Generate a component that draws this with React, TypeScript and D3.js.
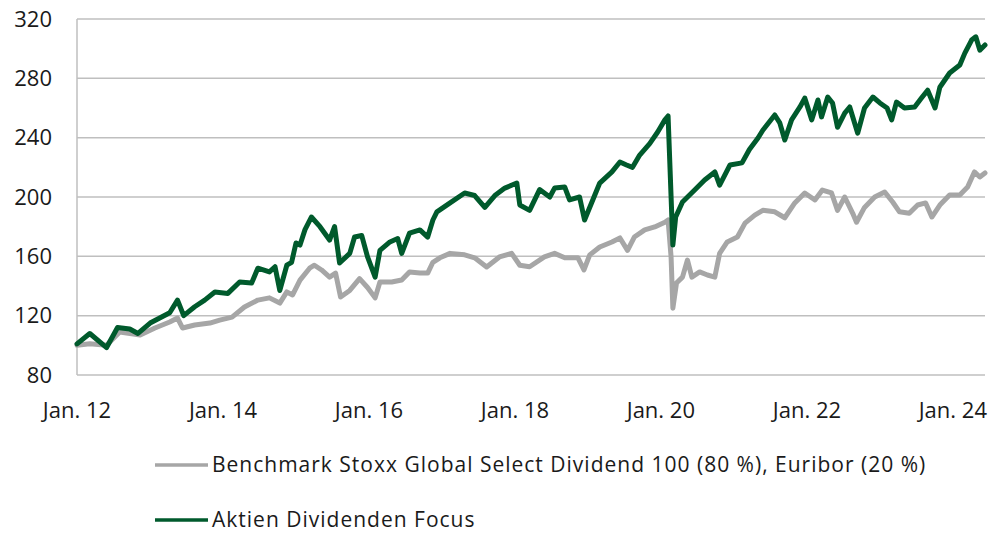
import React, { useRef, useEffect } from "react";
import * as d3 from "d3";

const yTicks = [80, 120, 160, 200, 240, 280, 320];
const xTickDates = ["2012-01-01", "2014-01-01", "2016-01-01", "2018-01-01", "2020-01-01", "2022-01-01", "2024-01-01"];
const xTickLabels = ["Jan. 12", "Jan. 14", "Jan. 16", "Jan. 18", "Jan. 20", "Jan. 22", "Jan. 24"];
const seriesNames = ["Benchmark Stoxx Global Select Dividend 100 (80 %), Euribor (20 %)", "Aktien Dividenden Focus"];

// benchmark (grey)
const benchDates = [
  "2012-01-01", "2012-03-05", "2012-05-28", "2012-08-02", "2012-11-12", "2013-01-25", "2013-04-09", "2013-05-18",
  "2013-06-12", "2013-08-12", "2013-10-27", "2013-12-15", "2014-02-15", "2014-04-18", "2014-06-24", "2014-08-21",
  "2014-10-12", "2014-11-16", "2014-12-15", "2015-01-21", "2015-03-10", "2015-04-03", "2015-05-09", "2015-06-18",
  "2015-07-18", "2015-08-12", "2015-09-27", "2015-11-15", "2015-12-25", "2016-02-01", "2016-02-25", "2016-04-24",
  "2016-06-13", "2016-07-22", "2016-09-12", "2016-10-21", "2016-11-16", "2016-12-21", "2017-02-10", "2017-04-24",
  "2017-06-13", "2017-08-12", "2017-10-15", "2017-12-15", "2018-01-25", "2018-03-15", "2018-05-28", "2018-07-18",
  "2018-09-07", "2018-11-12", "2018-12-12", "2019-01-10", "2019-03-01", "2019-05-01", "2019-06-10", "2019-07-18",
  "2019-08-21", "2019-10-12", "2019-12-01", "2020-01-21", "2020-02-06", "2020-02-21", "2020-03-01", "2020-03-19",
  "2020-04-18", "2020-05-13", "2020-06-04", "2020-07-13", "2020-08-21", "2020-09-27", "2020-10-21", "2020-11-28",
  "2021-01-18", "2021-02-25", "2021-04-15", "2021-05-25", "2021-07-24", "2021-09-12", "2021-11-01", "2021-12-21",
  "2022-02-10", "2022-03-19", "2022-05-04", "2022-06-03", "2022-07-09", "2022-08-18", "2022-09-06", "2022-10-16",
  "2022-12-06", "2023-01-25", "2023-03-06", "2023-04-09", "2023-05-28", "2023-07-09", "2023-08-18", "2023-09-18",
  "2023-10-28", "2023-12-16", "2024-02-05", "2024-03-15", "2024-04-18", "2024-05-15", "2024-06-10",
];
const benchValues = [
  100, 101, 100, 109, 107, 111.7, 115.7, 118.4,
  111.7, 113.7, 115, 117, 119, 125.8, 130.5, 132,
  128.5, 136, 134, 144, 152, 154, 150.8, 146,
  148.7, 132.6, 137, 145, 139, 132, 142.7, 142.7,
  144, 149.5, 148.7, 148.7, 156, 159, 162, 161,
  159, 152.8, 159.6, 162, 154, 153, 159.6, 162,
  159, 159, 150.8, 161, 166.3, 169.7, 172.4, 164,
  173, 177.8, 179.8, 183, 184.5, 159.6, 125, 142,
  146, 157.5, 146, 149.5, 147.4, 146, 162, 169.7,
  173, 182.4, 187.8, 191, 190, 186, 196, 202.7,
  198, 204.7, 202.7, 191, 200, 189, 183, 193,
  200, 203.4, 196.6, 190, 189, 194.6, 196, 186.5,
  194.6, 201.4, 201.4, 206.7, 216.9, 213.5, 216.2,
];

// fund (green)
const fundDates = [
  "2012-01-01", "2012-03-05", "2012-05-28", "2012-07-22", "2012-09-21", "2012-11-01", "2013-01-01", "2013-04-09",
  "2013-05-18", "2013-06-18", "2013-08-12", "2013-10-01", "2013-11-21", "2014-01-25", "2014-03-25", "2014-05-24",
  "2014-06-24", "2014-08-21", "2014-09-18", "2014-10-12", "2014-11-16", "2014-12-10", "2015-01-01", "2015-01-21",
  "2015-02-15", "2015-03-19", "2015-05-01", "2015-06-18", "2015-07-13", "2015-08-07", "2015-09-27", "2015-10-21",
  "2015-11-26", "2015-12-25", "2016-02-01", "2016-02-25", "2016-04-15", "2016-05-24", "2016-06-13", "2016-07-22",
  "2016-09-12", "2016-10-21", "2016-11-16", "2016-12-06", "2017-02-10", "2017-04-24", "2017-06-13", "2017-08-03",
  "2017-09-22", "2017-11-11", "2018-01-10", "2018-01-25", "2018-03-15", "2018-05-04", "2018-06-24", "2018-07-18",
  "2018-09-07", "2018-10-01", "2018-11-20", "2018-12-15", "2019-03-01", "2019-05-01", "2019-06-10", "2019-07-13",
  "2019-08-12", "2019-09-17", "2019-11-06", "2019-12-16", "2020-01-21", "2020-02-06", "2020-03-01", "2020-03-15",
  "2020-04-18", "2020-06-18", "2020-08-07", "2020-09-27", "2020-10-21", "2020-12-12", "2021-02-10", "2021-03-19",
  "2021-05-01", "2021-05-25", "2021-07-24", "2021-08-18", "2021-09-12", "2021-10-16", "2021-11-27", "2021-12-21",
  "2022-01-25", "2022-02-25", "2022-03-15", "2022-04-15", "2022-05-09", "2022-06-03", "2022-07-09", "2022-08-03",
  "2022-08-27", "2022-09-12", "2022-10-16", "2022-11-27", "2023-01-01", "2023-02-06", "2023-03-01", "2023-03-25",
  "2023-05-04", "2023-06-24", "2023-07-28", "2023-08-28", "2023-10-04", "2023-10-28", "2023-12-16", "2024-02-05",
  "2024-03-01", "2024-04-04", "2024-04-25", "2024-05-15", "2024-06-10",
];
const fundValues = [
  101, 108, 98.5, 112, 111, 108, 115, 122,
  130.5, 120, 126, 130.5, 136, 135, 142.7, 142,
  152, 149.5, 153, 137, 154, 156, 169, 167.6,
  178, 186.5, 180, 171, 180, 155.5, 162, 173,
  174, 159.6, 146, 164, 169.7, 172, 162, 175.7,
  177.8, 173, 184.5, 190, 196, 202.7, 201, 193,
  201, 206, 209.4, 194.6, 191, 205, 200, 206,
  206.7, 198, 200, 184.5, 209.4, 216.9, 223.6, 221.6,
  220, 228.3, 236, 243.8, 252, 254.6, 167.6, 186.5,
  196.6, 204.7, 211.5, 216.9, 208, 221.6, 223, 232,
  239.8, 245, 255.3, 250, 238.4, 252, 260.7, 266.7,
  252, 265.4, 254, 267.4, 263.4, 247, 256.6, 260.7,
  250, 243, 260, 267.4, 263.4, 260, 252, 264,
  260, 260.7, 266.7, 272, 260, 274, 283.6, 289,
  297, 305.8, 308, 299, 302.5,
];

const parse = d3.timeParse("%Y-%m-%d");

const App = () => {
  const ref = useRef<SVGSVGElement | null>(null);

  useEffect(() => {
    document.body.style.margin = "0";
    const svg = d3.select(ref.current);
    svg.selectAll("*").remove();

    const font = "'Open Sans', sans-serif";
    const x = d3.scaleTime()
      .domain([parse("2012-01-01")!, parse("2024-06-10")!])
      .range([77, 985]);
    const y = d3.scaleLinear().domain([80, 320]).range([375, 19]);

    // grid
    svg.append("g").selectAll("line").data(yTicks).join("line")
      .attr("x1", 77).attr("x2", 985)
      .attr("y1", (d) => y(d)).attr("y2", (d) => y(d))
      .attr("stroke", "#bfbfbf").attr("stroke-width", 1.5);
    svg.append("line")
      .attr("x1", 77).attr("x2", 77).attr("y1", y(320)).attr("y2", y(80))
      .attr("stroke", "#bfbfbf").attr("stroke-width", 1.5);

    // y labels
    svg.append("g").selectAll("text").data(yTicks).join("text")
      .attr("x", 52).attr("y", (d) => y(d)).attr("dy", "0.35em")
      .attr("text-anchor", "end").attr("font-family", font).attr("font-size", 22)
      .attr("fill", "#1a1a1a").text((d) => d);

    // x labels
    svg.append("g").selectAll("text").data(xTickDates).join("text")
      .attr("x", (d) => x(parse(d)!)).attr("y", 418)
      .attr("text-anchor", "middle").attr("font-family", font).attr("font-size", 22)
      .attr("fill", "#1a1a1a").text((d, i) => xTickLabels[i]);

    const line = d3.line<[Date, number]>()
      .x((d) => x(d[0])).y((d) => y(d[1]));

    const bench: [Date, number][] = benchDates.map((d, i) => [parse(d)!, benchValues[i]]);
    const fund: [Date, number][] = fundDates.map((d, i) => [parse(d)!, fundValues[i]]);

    svg.append("path").datum(bench).attr("d", line)
      .attr("fill", "none").attr("stroke", "#a6a6a6").attr("stroke-width", 5)
      .attr("stroke-linejoin", "round").attr("stroke-linecap", "round");
    svg.append("path").datum(fund).attr("d", line)
      .attr("fill", "none").attr("stroke", "#005a2c").attr("stroke-width", 5)
      .attr("stroke-linejoin", "round").attr("stroke-linecap", "round");

    // legend
    const colors = ["#a6a6a6", "#005a2c"];
    const lg = svg.append("g").selectAll("g").data(seriesNames).join("g")
      .attr("transform", (d, i) => `translate(0, ${465 + i * 55})`);
    lg.append("line").attr("x1", 155).attr("x2", 208)
      .attr("stroke", (d, i) => colors[i]).attr("stroke-width", 3.5);
    lg.append("text").attr("x", 212).attr("dy", "0.35em")
      .attr("font-family", font).attr("font-size", 21).attr("letter-spacing", 1)
      .attr("fill", "#1a1a1a")
      .text((d) => d);
  }, []);

  return <svg ref={ref} width={995} height={533} style={{ display: "block" }} />;
};

export default App;
